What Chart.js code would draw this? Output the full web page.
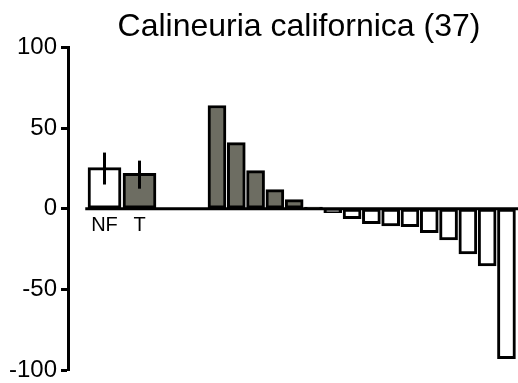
<!DOCTYPE html>
<html>
<head>
<meta charset="utf-8">
<script src="https://cdn.jsdelivr.net/npm/chart.js@4/dist/chart.umd.min.js"></script>
<style>
    html, body { margin: 0; padding: 0; background: #fff; overflow: hidden; }
    #wrap { width: 532px; height: 383px; }
</style>
</head>
<body>
<div id="wrap"><canvas id="chart"></canvas></div>
<script>
const titleText = 'Calineuria californica (37)';

// left group: means with error range
const groupLabels = ['NF', 'T'];
const groupValues = [25.5, 22];
const groupErrLow = [15, 12.4];
const groupErrHigh = [34.8, 29.8];
const groupColors = ['#ffffff', '#6d6d62'];

// right group: ranked values
const rankValues = [64, 41, 23.6, 11.8, 5.6, 1, -2.5, -6.2, -9.3, -10.6, -11.2, -14.9, -19.3, -28, -35.4, -93];

const yTicks = [100, 50, 0, -50, -100];

const GRAY = '#6d6d62';
const FONT = "'Liberation Sans', Arial, sans-serif";

const errorBars = {
    id: 'errorBars',
    afterDatasetsDraw(chart) {
        const ctx = chart.ctx;
        const xs = chart.scales.xL;
        const ys = chart.scales.y;
        ctx.save();
        ctx.strokeStyle = '#000';
        ctx.lineWidth = 3;
        groupValues.forEach((v, i) => {
            const x = xs.getPixelForValue(i);
            ctx.beginPath();
            ctx.moveTo(x, ys.getPixelForValue(groupErrHigh[i]));
            ctx.lineTo(x, ys.getPixelForValue(groupErrLow[i]));
            ctx.stroke();
        });
        ctx.restore();
    }
};

const zeroLine = {
    id: 'zeroLine',
    afterDatasetsDraw(chart) {
        const ctx = chart.ctx;
        const y = chart.scales.y.getPixelForValue(0);
        ctx.save();
        ctx.strokeStyle = '#000';
        ctx.lineWidth = 3;
        ctx.beginPath();
        ctx.moveTo(chart.scales.xL.getPixelForValue(-0.55), y);
        ctx.lineTo(chart.chartArea.right, y);
        ctx.stroke();
        ctx.restore();
    }
};

function noPad(s) {
    s.paddingTop = 0;
    s.paddingBottom = 0;
    s.paddingLeft = 0;
    s.paddingRight = 0;
}

new Chart(document.getElementById('chart'), {
    type: 'bar',
    data: {
        datasets: [
            {
                xAxisID: 'xL',
                data: groupValues.map((v, i) => ({ x: i, y: v })),
                backgroundColor: groupColors,
                borderColor: '#000',
                borderWidth: 3,
                borderSkipped: false,
                barThickness: 33,
                grouped: false
            },
            {
                xAxisID: 'xR',
                data: rankValues.map((v, i) => ({ x: i, y: v })),
                backgroundColor: rankValues.map(v => v > 0 ? GRAY : '#ffffff'),
                borderColor: '#000',
                borderWidth: 3,
                borderSkipped: false,
                barThickness: 18,
                grouped: false
            }
        ]
    },
    options: {
        responsive: true,
        maintainAspectRatio: false,
        animation: false,
        layout: { padding: { left: 0, right: 2, top: 0, bottom: 13 } },
        plugins: {
            legend: { display: false },
            tooltip: { enabled: false },
            title: {
                display: true,
                text: titleText,
                fullSize: false,
                color: '#000',
                font: { family: FONT, size: 32, weight: 'normal' },
                padding: { top: 8, bottom: 1 }
            }
        },
        scales: {
            xL: {
                type: 'linear',
                position: { y: 0 },
                offset: false,
                min: -1.043,
                max: 12.157,
                grid: { display: false, offset: false },
                border: { display: false },
                afterFit: noPad,
                afterBuildTicks: s => { s.ticks = groupLabels.map((_, i) => ({ value: i })); },
                ticks: {
                    autoSkip: false,
                    maxRotation: 0,
                    padding: -3,
                    color: '#000',
                    font: { family: FONT, size: 20 },
                    callback: v => groupLabels[v]
                }
            },
            xR: {
                type: 'linear',
                display: false,
                offset: false,
                min: -7.72,
                max: 16.22
            },
            y: {
                min: -100,
                max: 100,
                afterFit: s => { s.width = 68; noPad(s); },
                afterBuildTicks: s => { s.ticks = yTicks.map(v => ({ value: v })); },
                grid: {
                    drawOnChartArea: false,
                    drawTicks: true,
                    tickLength: 7,
                    tickWidth: 3,
                    tickColor: '#000'
                },
                border: { display: true, color: '#000', width: 3 },
                ticks: {
                    padding: 4,
                    color: '#000',
                    font: { family: FONT, size: 24 }
                }
            }
        }
    },
    plugins: [errorBars, zeroLine]
});
</script>
</body>
</html>
